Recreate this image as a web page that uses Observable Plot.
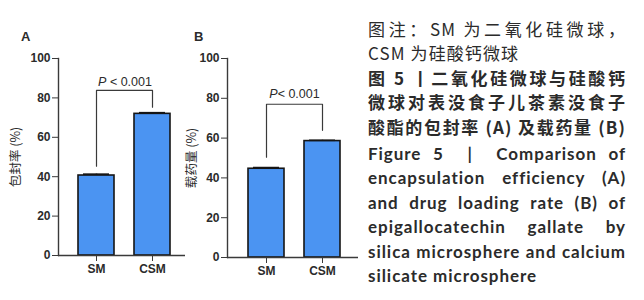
<!DOCTYPE html>
<html>
<head>
<meta charset="utf-8">
<script src="https://cdn.jsdelivr.net/npm/d3@7"></script>
<script src="https://cdn.jsdelivr.net/npm/@observablehq/plot@0.6"></script>
<style>
  html, body { margin: 0; padding: 0; background: #fff; }
  #root { position: relative; width: 644px; height: 300px; overflow: hidden; background: #fff; }
  .panel { position: absolute; top: 0; }
  .plabel { position: absolute; font: bold 13px "Liberation Sans", Arial, sans-serif; color: #2b2b2b; }
  #caption { position: absolute; left: 368px; top: 16.5px; width: 258px; color: #2b2b2b; line-height: 24.5px; }
  #caption .cn { font-family: "Noto Sans CJK SC", sans-serif; font-size: 17px; letter-spacing: 1.1px; white-space: nowrap; }
  #caption .en { font-family: Lato, "Open Sans", sans-serif; font-size: 17px; letter-spacing: 0.95px; font-weight: bold; white-space: nowrap; }
  #caption .j { text-align: justify; text-align-last: justify; }
  #caption .b { font-weight: bold; }
</style>
</head>
<body>
<div id="root">
  <div id="pa" class="panel" style="left:0px"></div>
  <div id="pb" class="panel" style="left:180px"></div>
  <div class="plabel" style="left:21px; top:29px">A</div>
  <div class="plabel" style="left:194px; top:29px">B</div>
  <div id="caption">
    <div class="cn j">图注：SM 为二氧化硅微球，</div>
    <div class="cn">CSM 为硅酸钙微球</div>
    <div class="cn j b">图 5 丨二氧化硅微球与硅酸钙</div>
    <div class="cn j b">微球对表没食子儿茶素没食子</div>
    <div class="cn j b">酸酯的包封率 (A) 及载药量 (B)</div>
    <div style="height:2.5px"></div>
    <div class="en j">Figure 5 &nbsp;| &nbsp;Comparison of</div>
    <div class="en j">encapsulation efficiency (A)</div>
    <div class="en j">and drug loading rate (B) of</div>
    <div class="en j">epigallocatechin gallate by</div>
    <div class="en j">silica microsphere and calcium</div>
    <div class="en">silicate microsphere</div>
  </div>
</div>
<script>
// ---- data ----
const categories = ["SM", "CSM"];
const encapsulation = [40.6, 71.9];      // panel A, %
const encapsulationErr = [0.7, 0.6];
const loading = [44.6, 58.5];            // panel B, %
const loadingErr = [0.6, 0.4];
const yTicks = [0, 20, 40, 60, 80, 100];
const bracketA = [45.3, 83.8, 83.8, 75.3]; // y values of the significance bracket
const bracketB = [50.4, 77.0, 77.0, 63.9];
const bracketX = ["SM", "SM", "CSM", "CSM"];
const pLabelA = "P < 0.001";
const pLabelB = "P< 0.001";
const pLabelYA = 88;
const pLabelYB = 82;
const yTitleA = "包封率 (%)";
const yTitleB = "载药量 (%)";

function panel(opts) {
  const data = categories.map((c, i) => ({cat: c, v: opts.values[i], e: opts.errs[i]}));
  const bracket = bracketX.map((x, i) => ({x, y: opts.bracket[i]}));
  const svg = Plot.plot({
    width: opts.width,
    height: opts.height,
    marginLeft: opts.marginLeft,
    marginRight: opts.marginRight,
    marginTop: opts.marginTop,
    marginBottom: opts.marginBottom,
    style: {background: "transparent", overflow: "visible", color: "#2b2b2b",
            fontFamily: "'Liberation Sans', Arial, sans-serif", fontSize: "12px", fontWeight: "bold"},
    x: {domain: categories, paddingInner: opts.pi, paddingOuter: opts.po, align: opts.align, label: null},
    y: {domain: [0, 100]},
    marks: [
      Plot.barY(data, {x: "cat", y: "v", fill: "#4b94f2", stroke: "#151515", strokeWidth: 1.6}),
      Plot.ruleX(data, {x: "cat", y1: "v", y2: d => d.v + d.e, stroke: "#151515", strokeWidth: 1.6}),
      Plot.tickY(data, {x: "cat", y: d => d.v + d.e, insetLeft: 5, insetRight: 5, stroke: "#151515", strokeWidth: 1.6}),
      Plot.line(bracket, {x: "x", y: "y", stroke: "#3a3a3a", strokeWidth: 1.2}),
      Plot.text([opts.pLabel], {x: () => "SM", y: () => opts.pY, dx: opts.pDx, text: d => d,
        fontSize: 12.5, fontWeight: "normal", fill: "#2b2b2b"}),
      Plot.axisY({ticks: yTicks, tickSize: 6, tickPadding: 2, label: opts.yTitle, labelAnchor: "center",
        labelOffset: opts.labelOffset, stroke: "#3a3a3a", fontSize: 12}),
      Plot.axisX({tickSize: 6, tickPadding: 3, label: null, fontSize: 12, stroke: "#3a3a3a"}),
      Plot.frame({anchor: "left", stroke: "#3a3a3a", strokeWidth: 1.4}),
      Plot.ruleY([0], {stroke: "#3a3a3a", strokeWidth: 1.4})
    ]
  });
  d3.select(svg).selectAll("text").each(function() {
    const t = this.textContent;
    const el = d3.select(this);
    if (t === opts.pLabel) {
      el.text(null);
      el.append("tspan").attr("font-style", "italic").text("P");
      el.append("tspan").text(t.slice(1));
    } else if (t.indexOf(opts.yTitle) >= 0) {
      el.text(opts.yTitle)
        .attr("font-size", 12.5).attr("font-weight", "normal")
        .attr("font-family", "'Noto Sans CJK SC', sans-serif");
    }
  });
  return svg;
}

document.getElementById("pa").appendChild(panel({
  values: encapsulation, errs: encapsulationErr, bracket: bracketA,
  pLabel: pLabelA, pY: pLabelYA, pDx: 28.5, yTitle: yTitleA,
  width: 188, height: 290, marginLeft: 58, marginRight: 3, marginTop: 58, marginBottom: 35,
  pi: 0.35, po: 0.29, align: 0.58, labelOffset: 47
}));
document.getElementById("pb").appendChild(panel({
  values: loading, errs: loadingErr, bracket: bracketB,
  pLabel: pLabelB, pY: pLabelYB, pDx: 28, yTitle: yTitleB,
  width: 182, height: 292, marginLeft: 47, marginRight: 4, marginTop: 58, marginBottom: 35,
  pi: 0.355, po: 0.344, align: 0.535, labelOffset: 40
}));
</script>
</body>
</html>
